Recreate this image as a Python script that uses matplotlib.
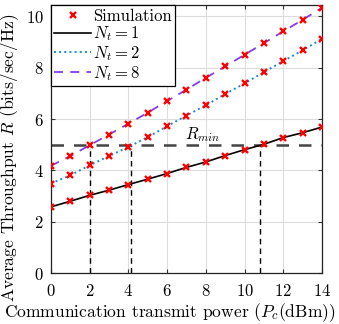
import numpy as np
import matplotlib
matplotlib.use("Agg")
import matplotlib.pyplot as plt

plt.rcParams["font.family"] = "cmr10"
plt.rcParams["mathtext.fontset"] = "cm"
plt.rcParams["axes.formatter.use_mathtext"] = True
plt.rcParams["font.size"] = 12

# transmit power (dBm)
pc = np.arange(0, 15)

# average throughput for each antenna count
rate_nt1 = [2.58, 2.80, 3.03, 3.23, 3.45, 3.66, 3.88, 4.12, 4.33, 4.58,
            4.81, 5.02, 5.28, 5.47, 5.69]
rate_nt2 = [3.49, 3.81, 4.20, 4.56, 4.91, 5.30, 5.72, 6.14, 6.54, 6.98,
            7.39, 7.83, 8.26, 8.68, 9.13]
rate_nt8 = [4.18, 4.56, 4.98, 5.40, 5.82, 6.25, 6.70, 7.15, 7.61, 8.05,
            8.51, 8.96, 9.42, 9.87, 10.34]

r_min = 5
# power where each curve reaches r_min
cross_pc = [2.0, 4.15, 10.8]

fig = plt.figure(figsize=(3.39, 3.24), dpi=100)
ax = fig.add_axes([0.150, 0.157, 0.800, 0.828])

ax.plot(pc, rate_nt1, "-", color="black", lw=1.2, label=r"$N_t = 1$", zorder=3)
ax.plot(pc, rate_nt2, ":", color="#1a8ad8", lw=1.4, label=r"$N_t = 2$", zorder=3)
ax.plot(pc, rate_nt8, "--", color="#7f3ff0", lw=1.3, dashes=(5, 4),
        label=r"$N_t = 8$", zorder=3)
ax.plot(np.tile(pc, 3), rate_nt1 + rate_nt2 + rate_nt8, "x",
        color="red", ms=4.5, mew=1.7, ls="none", label="Simulation", zorder=4)

ax.axhline(r_min, color="#444444", lw=1.8, ls=(0, (5, 4)), zorder=2)
for xc in cross_pc:
    ax.plot([xc, xc], [0, r_min], "--", color="black", lw=1.0,
            dashes=(4, 3), zorder=2)
ax.text(6.9, 5.2, r"$R_{min}$", fontsize=12)

ax.set_xlim(0, 14)
ax.set_ylim(0, 10.45)
ax.set_xticks(np.arange(0, 15, 2))
ax.set_yticks(np.arange(0, 11, 2))
ax.grid(True, color="#dddddd", lw=0.8)
ax.set_axisbelow(True)
ax.tick_params(direction="in", top=True, right=True, length=3, pad=5,
               color="#333333")
ax.tick_params(axis="x", pad=7)
for sp in ax.spines.values():
    sp.set_color("#222222")
    sp.set_linewidth(0.9)

ax.set_xlabel(r"Communication transmit power ($P_c$(dBm))", fontsize=12.6)
ax.xaxis.set_label_coords(0.44, -0.105)
ax.set_ylabel(r"Average Throughput $\bar{R}$ (bits/sec/Hz)", fontsize=12.6)
ax.yaxis.set_label_coords(-0.105, 0.43)

handles, labels = ax.get_legend_handles_labels()
order = [3, 0, 1, 2]
leg = ax.legend([handles[i] for i in order], [labels[i] for i in order],
                loc="upper left", borderaxespad=0, fancybox=False,
                edgecolor="black", framealpha=1, handlelength=2.2,
                handletextpad=0.15, borderpad=0.2, labelspacing=0.05)
leg.get_frame().set_linewidth(0.9)

fig.savefig("out.png", dpi=100)
